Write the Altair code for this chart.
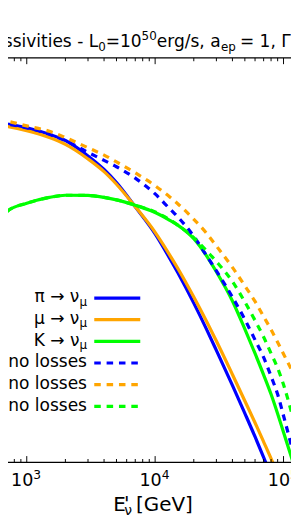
import altair as alt
import pandas as pd

# ---------------- data ----------------
# neutrino energy in the comoving frame, GeV
E_GEV = [600, 700, 1000, 1500, 2000, 3000, 4000, 5000, 7000, 10000, 13000, 15000,
         20000, 25000, 30000, 40000, 50000, 60000, 70000, 80000, 90000, 100000, 120000]

# log10 emissivity (arbitrary normalisation)
PI_LOSS = [-0.831, -0.850, -0.900, -0.983, -1.063, -1.261, -1.435, -1.604, -1.915, -2.263,
           -2.578, -2.760, -3.153, -3.480, -3.760, -4.210, -4.570, -4.870, -5.135, -5.370, -5.585]
MU_LOSS = [-0.863, -0.881, -0.938, -1.025, -1.113, -1.300, -1.463, -1.625, -1.913, -2.243,
           -2.535, -2.705, -3.074, -3.378, -3.640, -4.070, -4.410, -4.690, -4.935, -5.150, -5.350]
K_LOSS = [-2.088, -1.975, -1.869, -1.794, -1.766, -1.769, -1.794, -1.825, -1.894, -1.988,
          -2.088, -2.150, -2.325, -2.538, -2.750, -3.125, -3.488, -3.800, -4.075, -4.325,
          -4.575, -4.813, -5.225]
PI_FREE = [-0.831, -0.850, -0.900, -0.983, -1.063, -1.215, -1.318, -1.400, -1.546, -1.749,
           -1.941, -2.044, -2.295, -2.536, -2.738, -3.075, -3.363, -3.625, -3.850, -4.094,
           -4.325, -4.600, -5.100]
MU_FREE = [-0.794, -0.813, -0.875, -0.944, -1.025, -1.156, -1.250, -1.338, -1.478, -1.644,
           -1.788, -1.875, -2.075, -2.250, -2.419, -2.694, -2.931, -3.131, -3.325, -3.494,
           -3.656, -3.806, -4.063]
K_FREE = [-2.088, -1.975, -1.869, -1.794, -1.766, -1.769, -1.794, -1.825, -1.894, -1.981,
          -2.081, -2.150, -2.313, -2.475, -2.619, -2.875, -3.138, -3.375, -3.588, -3.800,
          -3.988, -4.200, -4.663]

SERIES_VALUES = [PI_LOSS, MU_LOSS, K_LOSS, PI_FREE, MU_FREE, K_FREE]
LEGEND_HEADS = ["π → ν", "μ → ν", "K → ν", "π → ν", "μ → ν", "K → ν"]
LEGEND_TAILS = ["", "", "", "no losses", "no losses", "no losses"]
COLORS = ["#0000ff", "#ffa500", "#00ff00", "#0000ff", "#ffa500", "#00ff00"]
DASHED = [False, False, False, True, True, True]

TICK_MAJOR = [1000, 10000, 100000]
TICK_EXP = ["3", "4", "5"]
TICK_MINOR = [800, 900, 2000, 3000, 4000, 5000, 6000, 7000, 8000, 9000,
              20000, 30000, 40000, 50000, 60000, 70000, 80000, 90000]

# ---------------- layout / style ----------------
W, H = 291, 416
FONT = "DejaVu Sans"
FS = 17.5
FSS = 12.25
FS_TICK = 18
FS_TICK_S = 12.6
FS_LAB = 20.5
FS_LAB_S = 14.35
LW = 3.3
DASH = [6.7, 6]

xscale = alt.Scale(type="log", domain=[714.3, 114360], nice=False)
yscale = alt.Scale(domain=[-5.2, 0], nice=False, zero=False)
ONE = pd.DataFrame({"a": [0]})


def txt(s, x, y, size=FS, align="left"):
    return alt.Chart(ONE).mark_text(
        text=s, font=FONT, fontSize=size, align=align, baseline="alphabetic", color="black"
    ).encode(x=alt.value(x), y=alt.value(y))


layers = []

# curves
for vals, col, dashed in zip(SERIES_VALUES, COLORS, DASHED):
    df = pd.DataFrame({"E": E_GEV[:len(vals)], "logeps": vals})
    props = dict(clip=True, color=col, strokeWidth=LW, interpolate="monotone")
    if dashed:
        props["strokeDash"] = DASH
    layers.append(
        alt.Chart(df).mark_line(**props).encode(
            x=alt.X("E:Q", scale=xscale, axis=None),
            y=alt.Y("logeps:Q", scale=yscale, axis=None),
        )
    )

# frame (top and bottom spines)
for yy in (0, H):
    layers.append(
        alt.Chart(ONE).mark_rule(color="black", strokeWidth=1.2).encode(
            x=alt.value(0), x2=alt.value(W), y=alt.value(yy)
        )
    )

# inward ticks
df_maj = pd.DataFrame({"E": TICK_MAJOR, "base": ["10"] * 3, "exp": TICK_EXP})
df_min = pd.DataFrame({"E": TICK_MINOR})
for dfx, ln in ((df_maj, 6.5), (df_min, 3.5)):
    for y0, y1 in ((H, H - ln), (0, ln)):
        layers.append(
            alt.Chart(dfx).mark_rule(color="black", strokeWidth=1, clip=True).encode(
                x=alt.X("E:Q", scale=xscale, axis=None), y=alt.value(y0), y2=alt.value(y1)
            )
        )

# tick labels 10^k
layers.append(
    alt.Chart(df_maj).mark_text(font=FONT, fontSize=FS_TICK, align="left", dx=-16.2,
                                baseline="alphabetic", color="black").encode(
        x=alt.X("E:Q", scale=xscale, axis=None), y=alt.value(H + 24.3), text="base:N")
)
layers.append(
    alt.Chart(df_maj).mark_text(font=FONT, fontSize=FS_TICK_S, align="left", dx=6.7,
                                baseline="alphabetic", color="black").encode(
        x=alt.X("E:Q", scale=xscale, axis=None), y=alt.value(H + 17.3), text="exp:N")
)

# x label  E'_nu [GeV]
layers += [
    txt("E", 108.3, H + 50, FS_LAB),
    txt("'", 122, H + 49, FS_LAB, "center"),
    txt("ν", 119.5, H + 54, FS_LAB_S),
    txt("[GeV]", 131.6, H + 50, FS_LAB),
]

# title (cropped)
TY = -11
layers += [
    txt("Neutrino emissivities - L", 92.7, TY, FS, "right"),
    txt("0", 92.7, TY + 3.6, FSS),
    txt("=10", 100.5, TY),
    txt("50", 137.4, TY - 7.5, FSS),
    txt("erg/s, a", 153, TY),
    txt("ep", 218.9, TY + 3.6, FSS),
    txt("=", 238.5, TY),
    txt("1, Γ=10", 258.7, TY),
]

# legend (labels on the left, handles on the right)
Y0, DY = 247, 22.26
XR = 81.2
for i in range(6):
    yh = Y0 + DY * i
    rule_props = dict(color=COLORS[i], strokeWidth=LW)
    if DASHED[i]:
        rule_props["strokeDash"] = DASH
    layers.append(
        alt.Chart(ONE).mark_rule(**rule_props).encode(
            x=alt.value(88.7), x2=alt.value(136), y=alt.value(yh)
        )
    )
    sub_right = XR
    if LEGEND_TAILS[i]:
        layers.append(txt(LEGEND_TAILS[i], XR, yh + 4.5, FS, "right"))
        sub_right = XR - 86.6
    layers.append(txt("μ", sub_right, yh + 8, FSS, "right"))
    layers.append(txt(LEGEND_HEADS[i], sub_right - 7.8, yh + 4.5, FS, "right"))

chart = alt.layer(*layers).properties(
    width=W, height=H,
    autosize=alt.AutoSizeParams(type="none"),
    padding={"left": 0, "top": 44, "right": 0, "bottom": 53},
    background="white",
).configure_view(strokeWidth=0)

chart.save("out.html", embed_options={"renderer": "svg", "actions": False})
